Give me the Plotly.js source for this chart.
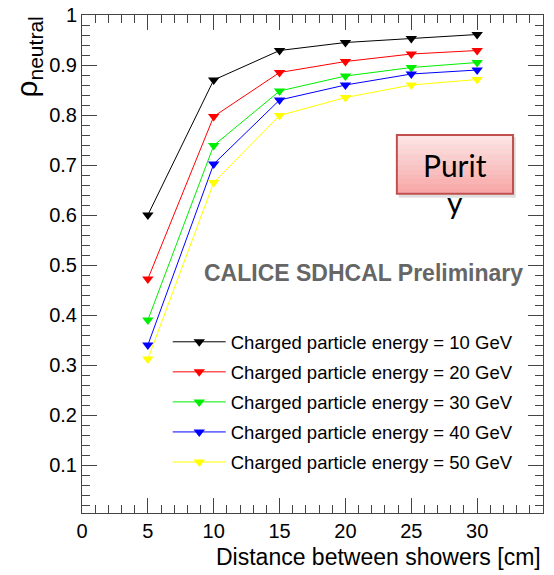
<!DOCTYPE html>
<html><head><meta charset="utf-8">
<script src="https://cdn.plot.ly/plotly-3.0.1.min.js"></script>
<style>body{margin:0;background:#fff}#p{width:554px;height:575px}</style>
</head><body><div id="p"></div>
<script>
const distances = [5, 10, 15, 20, 25, 30];
const energies = ['10', '20', '30', '40', '50'];
const purity10 = [0.600, 0.870, 0.929, 0.945, 0.953, 0.961];
const purity20 = [0.472, 0.797, 0.885, 0.907, 0.922, 0.929];
const purity30 = [0.390, 0.739, 0.848, 0.878, 0.895, 0.905];
const purity40 = [0.340, 0.702, 0.830, 0.860, 0.882, 0.890];
const purity50 = [0.312, 0.665, 0.799, 0.835, 0.860, 0.871];
const seriesColors = ['#000000', '#ff0000', '#00ee00', '#0000ff', '#ffff00'];
const allSeries = [purity10, purity20, purity30, purity40, purity50];

const traces = allSeries.map((ys, i) => ({
  x: distances, y: ys, type: 'scatter', mode: 'lines+markers',
  name: 'Charged particle energy = ' + energies[i] + ' GeV',
  legendgroup: 'g' + i,
  line: {color: seriesColors[i], width: 1},
  marker: {symbol: 'triangle-down', size: 10, color: seriesColors[i]}
}));

const FONT = 'Liberation Sans, Arial, sans-serif';
const axisCommon = {
  showgrid: false, zeroline: false, showline: true, linecolor: '#444', linewidth: 1,
  mirror: 'allticks', ticks: 'inside', ticklen: 15, tickcolor: '#444', tickwidth: 1,
  tickfont: {family: FONT, size: 20, color: '#000'}
};

// gradient bands for the "Purity" box
const bx0 = 0.683, bx1 = 0.935, by0 = 0.641, by1 = 0.759;
const nb = 12;
const shapes = [
  {type: 'rect', xref: 'paper', yref: 'paper', x0: bx0 + 0.004, x1: bx1 + 0.006, y0: by0 - 0.008, y1: by1 - 0.004,
   fillcolor: 'rgba(0,0,0,0.13)', line: {width: 0}}
];
for (let k = 0; k < nb; k++) {
  const t = k / (nb - 1);
  const g = Math.round(0xe4 - t * (0xe4 - 0xa8));
  const r = Math.round(0xfd - t * (0xfd - 0xf8));
  shapes.push({type: 'rect', xref: 'paper', yref: 'paper', x0: bx0, x1: bx1,
    y1: by1 - (by1 - by0) * k / nb, y0: by1 - (by1 - by0) * (k + 1) / nb,
    fillcolor: 'rgb(' + r + ',' + g + ',' + g + ')', line: {width: 0}});
}
shapes.push({type: 'rect', xref: 'paper', yref: 'paper', x0: bx0, x1: bx1, y0: by0, y1: by1,
  fillcolor: 'rgba(0,0,0,0)', line: {color: '#c0504d', width: 2}});

const layout = {
  width: 554, height: 575,
  margin: {l: 82, r: 11, t: 15, b: 62},
  paper_bgcolor: '#fff', plot_bgcolor: '#fff',
  showlegend: true,
  legend: {x: 0.186, y: 0.381, xanchor: 'left', yanchor: 'top', bgcolor: 'rgba(0,0,0,0)',
    traceorder: 'grouped', tracegroupgap: 3,
    font: {family: FONT, size: 18.5, color: '#000'}, itemwidth: 53},
  xaxis: Object.assign({}, axisCommon, {
    range: [0, 35], dtick: 5, tick0: 0,
    minor: {dtick: 1, ticks: 'inside', ticklen: 8, tickcolor: '#444'}
  }),
  yaxis: Object.assign({}, axisCommon, {
    range: [0.004, 1], dtick: 0.1, tick0: 0,
    minor: {dtick: 0.02, ticks: 'inside', ticklen: 8, tickcolor: '#444'}
  }),
  shapes: shapes,
  annotations: [
    {xref: 'paper', yref: 'paper', x: -0.117, y: 1.0, xanchor: 'center', yanchor: 'top', textangle: -90,
     text: 'ρ<sub>neutral</sub>', showarrow: false, font: {family: FONT, size: 30, color: '#000'}},
    {xref: 'paper', yref: 'paper', x: 1.0, y: -0.088, xanchor: 'right', yanchor: 'middle',
     text: 'Distance between showers [cm]', showarrow: false, font: {family: FONT, size: 23, color: '#000'}},
    {xref: 'paper', yref: 'paper', x: 0.809, y: 0.699, xanchor: 'center', yanchor: 'middle', text: 'Purit', showarrow: false,
     font: {family: 'Lato, sans-serif', size: 30, color: '#000'}},
    {xref: 'paper', yref: 'paper', x: 0.809, y: 0.624, xanchor: 'center', yanchor: 'middle', text: 'y', showarrow: false,
     font: {family: 'Lato, sans-serif', size: 30, color: '#000'}},
    {xref: 'paper', yref: 'paper', x: 0.96, y: 0.482, xanchor: 'right', yanchor: 'middle',
     text: '<b>CALICE SDHCAL Preliminary</b>', showarrow: false,
     font: {family: FONT, size: 23, color: '#666'}}
  ]
};
Plotly.newPlot('p', traces, layout, {displayModeBar: false, staticPlot: true});
</script></body></html>
